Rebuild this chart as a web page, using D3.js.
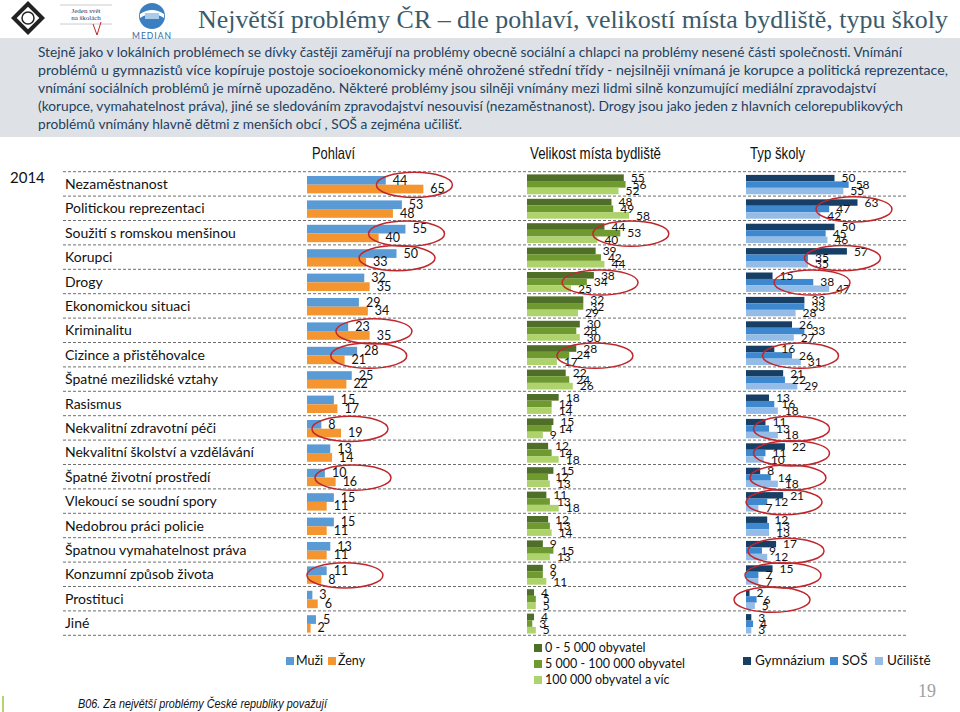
<!DOCTYPE html>
<html><head><meta charset="utf-8">
<script src="https://cdn.jsdelivr.net/npm/d3@7"></script>
<style>body{margin:0;background:#fff}svg{display:block}</style>
</head><body><svg id="c" width="960" height="712"></svg>
<script>
const categories = ["Nezaměstnanost","Politickou reprezentaci","Soužití s romskou menšinou","Korupci","Drogy","Ekonomickou situaci","Kriminalitu","Cizince a přistěhovalce","Špatné mezilidské vztahy","Rasismus","Nekvalitní zdravotní péči","Nekvalitní školství a vzdělávání","Špatné životní prostředí","Vlekoucí se soudní spory","Nedobrou práci policie","Špatnou vymahatelnost práva","Konzumní způsob života","Prostituci","Jiné"];
const muzi = [44,53,55,50,32,29,23,28,25,15,8,13,10,15,15,13,11,3,5];
const zeny = [65,48,40,33,35,34,35,21,22,17,19,14,16,11,11,11,8,6,2];
const obce0to5k = [55,48,44,39,38,32,30,28,22,18,15,12,15,11,12,9,9,4,4];
const obce5kto100k = [56,49,53,42,34,32,28,24,24,14,14,14,12,13,13,15,9,5,3];
const obce100kPlus = [52,58,40,44,25,29,30,17,26,14,9,18,13,18,14,13,11,5,5];
const gymnazium = [50,63,50,57,15,33,26,16,21,13,11,22,8,21,12,17,15,2,3];
const sos = [58,47,45,35,38,33,33,26,22,16,13,11,14,12,13,9,7,6,4];
const uciliste = [55,42,46,35,47,28,27,31,29,18,18,10,18,7,13,12,7,5,3];
const seriesGender = ["Muži","Ženy"];
const seriesSize = ["0 - 5 000 obyvatel","5 000 - 100 000 obyvatel","100 000 obyvatel a víc"];
const seriesSchool = ["Gymnázium","SOŠ","Učiliště"];
const panelTitles = ["Pohlaví","Velikost místa bydliště","Typ školy"];
const yearLabel = "2014";
// highlighted (circled) items: [category index, centre of ellipse in value units]
const circledGender = [[0,60],[2,55.6],[3,50.3],[6,37.4],[7,34.5],[10,24],[12,25.7],[16,21.2]];
const circledSize = [[2,59],[4,41.5],[7,38.6]];
const circledSchool = [[1,61],[3,54.5],[4,37.3],[7,30.8],[10,25.7],[11,25.7],[12,23.7],[13,21.5],[15,22.6],[16,20.9],[17,14.7]];
const titleText = "Největší problémy ČR – dle pohlaví, velikostí místa bydliště, typu školy";
const introLines = [
 "Stejně jako v lokálních problémech se dívky častěji zaměřují na problémy obecně sociální a chlapci na problémy nesené části společnosti. Vnímání",
 "problémů u gymnazistů více kopíruje postoje socioekonomicky méně ohrožené střední třídy  - nejsilněji vnímaná je korupce a politická reprezentace,",
 "vnímání sociálních problémů je mírně upozaděno. Některé problémy jsou silněji  vnímány mezi lidmi silně konzumující mediální zpravodajství",
 "(korupce, vymahatelnost práva), jiné se sledováním zpravodajství nesouvisí (nezaměstnanost). Drogy jsou jako jeden z hlavních celorepublikových",
 "problémů vnímány hlavně  dětmi z menších obcí , SOŠ a zejména učilišť."
];
const footnote = "B06. Za největší problémy České republiky považují";
const pageNo = "19";

const svg = d3.select("#c");
const SANS = "Lato, Carlito, Calibri, 'Noto Sans', sans-serif";
const NARROW = "'Liberation Sans Narrow','Arial Narrow','Liberation Sans',Arial,sans-serif";

// ---------- header ----------
svg.append("rect").attr("x",0).attr("y",38).attr("width",960).attr("height",99).attr("fill","#DEE2E6");
svg.append("text").attr("x",198).attr("y",28).attr("font-family","'Liberation Serif','DejaVu Serif',serif")
  .attr("font-size",26).attr("fill","#3B5B6B").attr("textLength",750).attr("lengthAdjust","spacingAndGlyphs").text(titleText);
const lineEnds = [902,948,876,903,462];
introLines.forEach((t,i)=>{
  svg.append("text").attr("x",38).attr("y",57+i*18).attr("font-family",SANS).attr("font-size",14)
   .attr("fill","#243F60").attr("textLength",lineEnds[i]-38).attr("lengthAdjust","spacingAndGlyphs").text(t);
});
// logos (simplified)
const lg = svg.append("g");
lg.append("rect").attr("x",16).attr("y",6).attr("width",24).attr("height",24).attr("transform","rotate(45 28 18)").attr("fill","#222");
lg.append("rect").attr("x",20).attr("y",10).attr("width",16).attr("height",16).attr("transform","rotate(45 28 18)").attr("fill","#fff");
lg.append("circle").attr("cx",28).attr("cy",18).attr("r",6).attr("fill","none").attr("stroke","#222").attr("stroke-width",1.5);
lg.append("line").attr("x1",60).attr("x2",112).attr("y1",5).attr("y2",5).attr("stroke","#ccc");
lg.append("line").attr("x1",60).attr("x2",112).attr("y1",24).attr("y2",24).attr("stroke","#ccc");
lg.append("text").attr("x",86).attr("y",13).attr("text-anchor","middle").attr("font-family","'Liberation Serif',serif").attr("font-size",7).attr("fill","#1F3B70").text("Jeden svět");
lg.append("text").attr("x",86).attr("y",20).attr("text-anchor","middle").attr("font-family","'Liberation Serif',serif").attr("font-size",7).attr("fill","#1F3B70").text("na školách");
lg.append("path").attr("d","M93,24 L97,35 L101,22").attr("fill","none").attr("stroke","#C0272D").attr("stroke-width",1);
lg.append("circle").attr("cx",152).attr("cy",16).attr("r",13).attr("fill","#3C7FC0");
lg.append("path").attr("d","M140,14 Q152,6 164,14 L164,18 Q152,10 140,18 Z").attr("fill","#fff");
lg.append("rect").attr("x",145).attr("y",13).attr("width",14).attr("height",6).attr("fill","#A9CBEA");
lg.append("text").attr("x",152).attr("y",39).attr("text-anchor","middle").attr("font-family",SANS).attr("font-size",8.5).attr("letter-spacing",1).attr("fill","#2E6DA4").text("MEDIAN");

// ---------- chart ----------
const y = d3.scaleBand().domain(categories).range([171.7,635.3]);
const bw = y.bandwidth();
svg.append("text").attr("x",10).attr("y",183).attr("font-family",SANS).attr("font-size",15).attr("fill","#111").text(yearLabel);

d3.range(categories.length+1).forEach(i=>{
  svg.append("line").attr("x1",63).attr("x2",907).attr("y1",171.7+i*bw).attr("y2",171.7+i*bw)
   .attr("stroke","#6E6E6E").attr("stroke-width",1).attr("stroke-dasharray","3,2");
});
svg.append("g").selectAll("text").data(categories).join("text")
  .attr("x",65).attr("y",d=>y(d)+bw/2+5).attr("font-family",SANS).attr("font-size",14).attr("fill","#111").text(d=>d);

const panels = [
  {title:panelTitles[0], titleX:312, titleW:43, keys:seriesGender, data:[muzi,zeny], colors:["#5B9BD5","#F4952F"], x0:307, w:179, inner:[4.3,21.7], circled:circledGender, fs:12.5},
  {title:panelTitles[1], titleX:530, titleW:131, keys:seriesSize, data:[obce0to5k,obce5kto100k,obce100kPlus], colors:["#4F6E27","#6F9A2F","#AED36C"], x0:527, w:176, inner:[2.7,22.6], circled:circledSize, fs:12},
  {title:panelTitles[2], titleX:750, titleW:55, keys:seriesSchool, data:[gymnazium,sos,uciliste], colors:["#173F66","#3D88CF","#94BCE6"], x0:746, w:177, inner:[3.2,22.6], circled:circledSchool, fs:12}
];
panels.forEach(p=>{
  const x = d3.scaleLinear().domain([0,100]).range([p.x0,p.x0+p.w]);
  const yi = d3.scaleBand().domain(p.keys).range(p.inner);
  svg.append("text").attr("x",p.titleX).attr("y",159).attr("font-family",NARROW).attr("font-size",17)
    .attr("fill","#111").attr("textLength",p.titleW).attr("lengthAdjust","spacingAndGlyphs").text(p.title);
  const rows = [];
  categories.forEach((c,ci)=>p.keys.forEach((k,ki)=>rows.push({c,k,ki,v:p.data[ki][ci]})));
  const g = svg.append("g");
  g.selectAll("rect").data(rows).join("rect")
    .attr("x",x(0)).attr("y",d=>y(d.c)+yi(d.k)).attr("width",d=>x(d.v)-x(0)).attr("height",yi.bandwidth())
    .attr("fill",d=>p.colors[d.ki]);
  g.selectAll("text").data(rows).join("text")
    .attr("x",d=>x(d.v)+7).attr("y",d=>y(d.c)+yi(d.k)+yi.bandwidth()/2+4.2)
    .attr("font-family",SANS).attr("font-size",p.fs).attr("fill","#111").text(d=>d.v);
  g.selectAll("ellipse").data(p.circled).join("ellipse")
    .attr("cx",d=>x(d[1])).attr("cy",d=>y(categories[d[0]])+bw/2+1).attr("rx",38).attr("ry",12.6)
    .attr("fill","none").attr("stroke","#C0272D").attr("stroke-width",1.5);
});

// ---------- legends ----------
function sw(x,yy,c){svg.append("rect").attr("x",x).attr("y",yy).attr("width",8).attr("height",8).attr("fill",c);}
function lt(x,yy,t,fs){svg.append("text").attr("x",x).attr("y",yy).attr("font-family",SANS).attr("font-size",fs).attr("fill","#111").text(t);}
sw(286,657,panels[0].colors[0]); lt(296,665,seriesGender[0],12.5);
sw(328,657,panels[0].colors[1]); lt(338,665,seriesGender[1],12.5);
seriesSize.forEach((s,i)=>{ sw(534,644+i*16,panels[1].colors[i]); lt(545,652+i*16,s,12.5); });
const schoolX = [[743,755],[830,842],[875,887]];
seriesSchool.forEach((s,i)=>{ sw(schoolX[i][0],657,panels[2].colors[i]); lt(schoolX[i][1],665,s,13.5); });

// ---------- footer ----------
svg.append("text").attr("x",78).attr("y",708).attr("font-family","'Liberation Sans',Arial,sans-serif").attr("font-style","italic")
  .attr("font-size",13).attr("fill","#111").attr("textLength",249).attr("lengthAdjust","spacingAndGlyphs").text(footnote);
svg.append("text").attr("x",918).attr("y",697).attr("font-family","'Liberation Serif',serif").attr("font-size",18).attr("fill","#A0A0A0").text(pageNo);
svg.append("line").attr("x1",3).attr("x2",3).attr("y1",696).attr("y2",712).attr("stroke","#B5D36E").attr("stroke-width",2);
</script></body></html>
